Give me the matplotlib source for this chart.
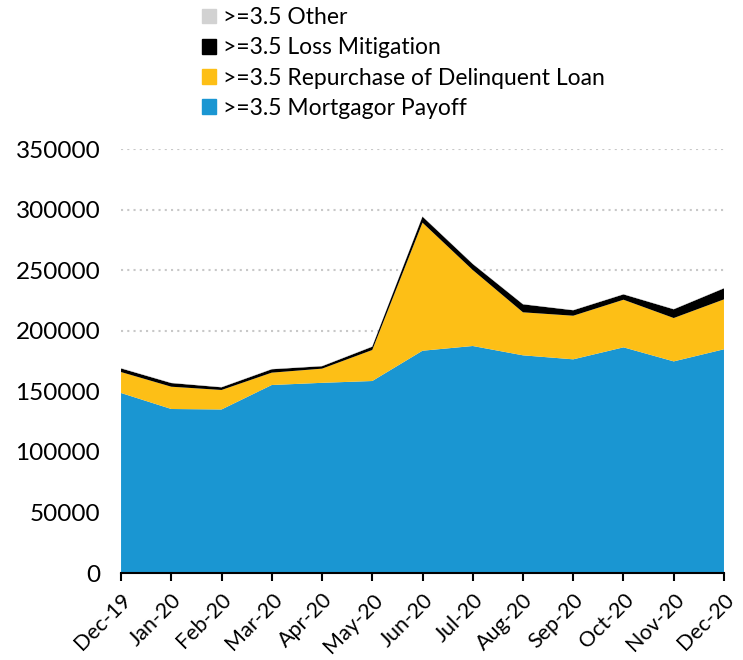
import numpy as np
import matplotlib
matplotlib.use('Agg')
import matplotlib.pyplot as plt
from matplotlib.patches import Patch

plt.rcParams['font.family'] = ['Lato', 'DejaVu Sans']

months = ['Dec-19', 'Jan-20', 'Feb-20', 'Mar-20', 'Apr-20', 'May-20', 'Jun-20',
          'Jul-20', 'Aug-20', 'Sep-20', 'Oct-20', 'Nov-20', 'Dec-20']
payoff = [148600, 135400, 135000, 155200, 157000, 158500, 183500,
          187400, 179700, 176400, 186300, 174700, 184700]
repurchase = [17300, 18400, 16100, 10200, 11700, 25600, 105700,
              62700, 35500, 36000, 39300, 35800, 41200]
loss_mit = [3000, 3000, 2200, 2800, 2000, 2700, 5000,
            5000, 6600, 4500, 4400, 7200, 9100]
other = [400, 300, 300, 300, 300, 300, 300,
         300, 300, 300, 300, 300, 300]

labels = ['>=3.5 Mortgagor Payoff', '>=3.5 Repurchase of Delinquent Loan',
          '>=3.5 Loss Mitigation', '>=3.5 Other']
colors = ['#1a96d2', '#fdbf16', '#000000', '#d2d2d2']

fig = plt.figure(figsize=(7.43, 6.60), dpi=100)
ax = fig.add_axes([0.1629, 0.1318, 0.9744 - 0.1629, 0.7742 - 0.1318])

x = np.arange(len(months))
ax.stackplot(x, payoff, repurchase, loss_mit, other, colors=colors, linewidth=0)

ax.set_xlim(0, len(months) - 1)
ax.set_ylim(0, 350000)
ax.set_yticks(np.arange(0, 350001, 50000))
ax.set_xticks(x)
ax.set_xticklabels(months, rotation=45, ha='right', rotation_mode='anchor')
ax.tick_params(axis='y', length=0, labelsize=17.5, pad=15)
ax.tick_params(axis='x', length=6, width=1.5, labelsize=15.5, pad=6, direction='out')
ax.yaxis.grid(True, linestyle=(0, (1, 2)), color='#c8c8c8', linewidth=1.5)
ax.set_axisbelow(True)
for s in ['left', 'right', 'top']:
    ax.spines[s].set_visible(False)
ax.spines['bottom'].set_linewidth(1.5)

handles = [Patch(color=c) for c in colors][::-1]
fig.legend(handles, labels[::-1], loc='upper left', bbox_to_anchor=(193 / 743, 1.003),
           frameon=False, fontsize=16.5, handlelength=0.6, handleheight=0.6,
           handletextpad=0.3, labelspacing=0.4, borderaxespad=0)

fig.savefig('out.png', dpi=100)
